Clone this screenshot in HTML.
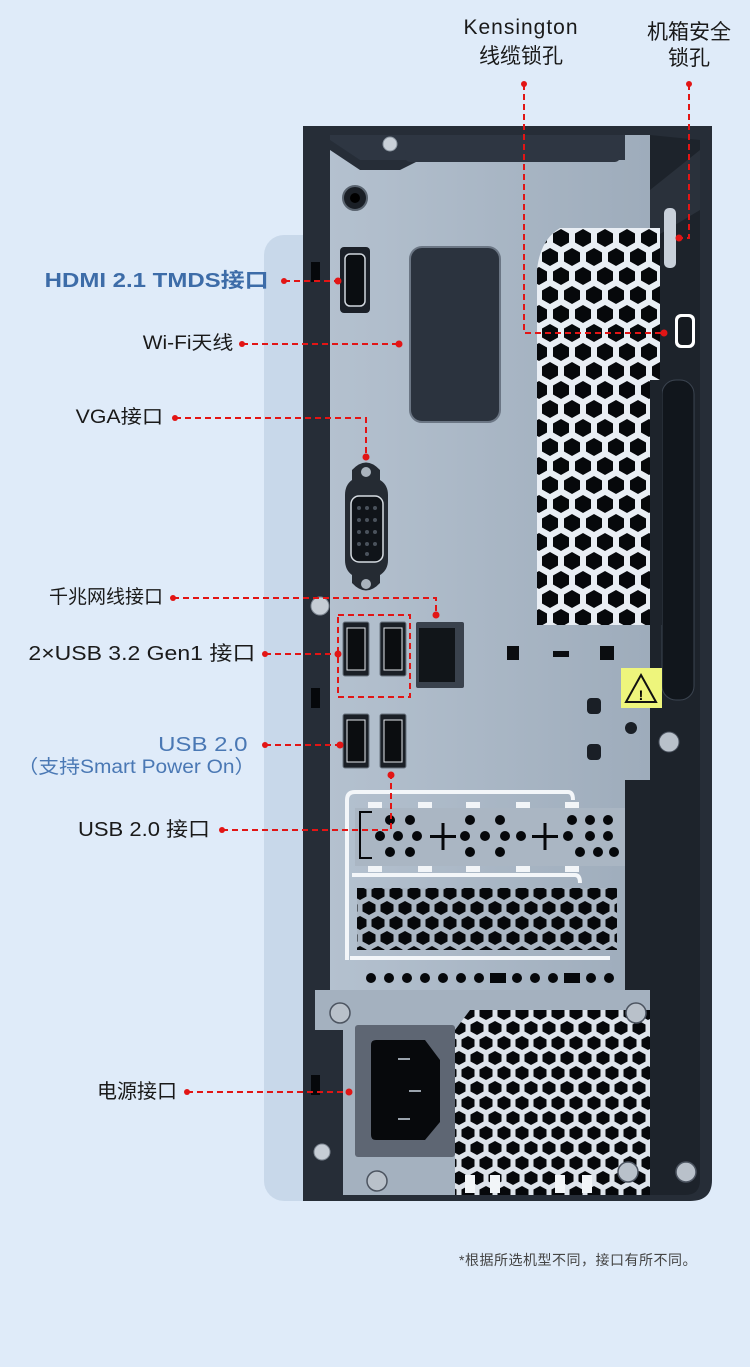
<!DOCTYPE html>
<html><head><meta charset="utf-8"><style>
html,body{margin:0;padding:0;background:#dfebf9;}
body{width:750px;height:1367px;overflow:hidden;position:relative;font-family:"Liberation Sans","Noto Sans CJK SC",sans-serif;}
.t{position:absolute;white-space:nowrap;color:#1a1a1a;font-size:19px;line-height:22px;transform-origin:100% 50%;}
.b{color:#3d6ca8;font-weight:bold;}
.bl{color:#4a78b4;}
.c{position:absolute;white-space:nowrap;color:#1a1a1a;font-size:21px;line-height:24px;text-align:center;}
</style></head><body>
<svg width="750" height="1367" style="position:absolute;left:0;top:0">
<defs>
<pattern id="hex" x="0" y="0" width="22" height="38" patternUnits="userSpaceOnUse">
<polygon points="11,1 19,5.5 19,14.5 11,19 3,14.5 3,5.5" fill="#06080b"/>
<polygon points="0,20 8,24.5 8,33.5 0,38 -8,33.5 -8,24.5" fill="#06080b"/>
<polygon points="22,20 30,24.5 30,33.5 22,38 14,33.5 14,24.5" fill="#06080b"/>
</pattern>
<pattern id="hex2" x="0" y="0" width="18" height="30" patternUnits="userSpaceOnUse">
<polygon points="9,1 15.5,4.5 15.5,11.5 9,15 2.5,11.5 2.5,4.5" fill="#06080b"/>
<polygon points="0,16 6.5,19.5 6.5,26.5 0,30 -6.5,26.5 -6.5,19.5" fill="#06080b"/>
<polygon points="18,16 24.5,19.5 24.5,26.5 18,30 11.5,26.5 11.5,19.5" fill="#06080b"/>
</pattern>
<linearGradient id="pl" x1="0" y1="0" x2="1" y2="0">
<stop offset="0" stop-color="#b4c1cf"/><stop offset="1" stop-color="#9eacbb"/>
</linearGradient>
</defs>
<rect x="264" y="235" width="90" height="966" rx="20" fill="#c8d8ea"/>
<path d="M303,126 H712 V1180 Q712,1201 690,1201 H303 Z" fill="#262d37"/>
<path d="M330,150 L360,170 H400 L420,160 H625 V135 H650 V1195 H345 V1135 L330,1125 Z" fill="url(#pl)"/>
<path d="M330,140 L360,160 H625 V135 H330 Z" fill="#2e3642"/>
<rect x="405" y="150" width="215" height="12" rx="5" fill="#2e3642"/>
<circle cx="390" cy="144" r="7" fill="#c9d0d8" stroke="#8a949f"/>
<path d="M650,135 L700,140 V1180 Q700,1195 685,1195 H650 Z" fill="#1d232b"/>
<path d="M650,190 L700,150 V210 L650,240 Z" fill="#2a313b"/>
<rect x="662" y="380" width="32" height="320" rx="14" fill="#11161c" stroke="#3b4450"/>
<rect x="664" y="208" width="12" height="60" rx="5" fill="#c8d0da"/>
<rect x="675" y="314" width="20" height="34" rx="6" fill="#fff"/>
<rect x="678" y="317" width="14" height="28" rx="4" fill="#151a20"/>
<rect x="311" y="262" width="9" height="20" fill="#06080b"/>
<rect x="311" y="688" width="9" height="20" fill="#06080b"/>
<path d="M560,228 Q540,240 537,270 V625 H660 V228 Z" fill="#e9eef4"/>
<path d="M560,228 Q540,240 537,270 V625 H660 V228 Z" fill="url(#hex)"/>
<rect x="650" y="380" width="12" height="245" fill="#1d232b"/>
<circle cx="355" cy="198" r="12" fill="#1a1f26" stroke="#5a6470" stroke-width="2"/>
<circle cx="355" cy="198" r="5" fill="#000"/>
<rect x="340" y="247" width="30" height="66" rx="4" fill="#1b2028"/>
<rect x="345" y="254" width="20" height="52" rx="5" fill="#0a0d11" stroke="#d0d6dd" stroke-width="1.5"/>
<rect x="410" y="247" width="90" height="175" rx="12" fill="#2b333e" stroke="#6b7684" stroke-width="2"/>
<path d="M352,470 Q366,455 380,470 V480 Q388,485 388,495 V560 Q388,570 380,575 V583 Q366,598 352,583 V575 Q345,570 345,560 V495 Q345,485 352,480 Z" fill="#252b33"/>
<circle cx="366" cy="472" r="5" fill="#aab3bd"/><circle cx="366" cy="584" r="5" fill="#aab3bd"/>
<rect x="351" y="496" width="32" height="66" rx="8" fill="#101419" stroke="#d6dce2" stroke-width="1.5"/>
<g fill="#4a525c"><circle cx="359" cy="508" r="2"/><circle cx="367" cy="508" r="2"/><circle cx="375" cy="508" r="2"/><circle cx="359" cy="520" r="2"/><circle cx="367" cy="520" r="2"/><circle cx="375" cy="520" r="2"/><circle cx="359" cy="532" r="2"/><circle cx="367" cy="532" r="2"/><circle cx="375" cy="532" r="2"/><circle cx="359" cy="544" r="2"/><circle cx="367" cy="544" r="2"/><circle cx="375" cy="544" r="2"/><circle cx="367" cy="554" r="2"/></g>
<circle cx="320" cy="606" r="9" fill="#c6cdd5" stroke="#7f8893"/>
<g fill="#1a1f26" stroke="#6a7480"><rect x="343" y="622" width="26" height="54" rx="2"/><rect x="380" y="622" width="26" height="54" rx="2"/><rect x="343" y="714" width="26" height="54" rx="2"/><rect x="380" y="714" width="26" height="54" rx="2"/></g>
<g fill="#0b0d10" stroke="#e5e9ee" stroke-width="1"><rect x="347" y="628" width="18" height="42"/><rect x="384" y="628" width="18" height="42"/><rect x="347" y="720" width="18" height="42"/><rect x="384" y="720" width="18" height="42"/></g>
<rect x="416" y="622" width="48" height="66" rx="2" fill="#3a424d"/>
<rect x="419" y="628" width="36" height="54" fill="#111519"/>
<rect x="507" y="646" width="12" height="14" fill="#0b0d10"/>
<rect x="553" y="651" width="16" height="6" fill="#0b0d10"/>
<rect x="600" y="646" width="14" height="14" fill="#0b0d10"/>
<rect x="621" y="668" width="41" height="40" fill="#eef57c"/>
<polygon points="641,675 656,702 626,702" fill="none" stroke="#111" stroke-width="2"/>
<text x="641" y="700" font-size="14" font-weight="bold" text-anchor="middle" font-family="Liberation Sans">!</text>
<rect x="587" y="698" width="14" height="16" rx="4" fill="#1a1f26"/>
<rect x="587" y="744" width="14" height="16" rx="4" fill="#1a1f26"/>
<circle cx="631" cy="728" r="6" fill="#1a1f26"/>
<circle cx="669" cy="742" r="10" fill="#b9c1ca" stroke="#4c5460"/>
<path d="M347,960 V800 Q347,792 355,792 H568 Q573,792 573,800 M350,958 H610" fill="none" stroke="#f3f6f9" stroke-width="4"/>
<path d="M352,875 H575 Q580,875 580,883" fill="none" stroke="#f3f6f9" stroke-width="4"/>
<rect x="355" y="808" width="270" height="58" fill="#aab6c3"/>
<g fill="#06080b">
<circle cx="390" cy="820" r="5"/><circle cx="410" cy="820" r="5"/><circle cx="380" cy="836" r="5"/><circle cx="398" cy="836" r="5"/><circle cx="417" cy="836" r="5"/><circle cx="390" cy="852" r="5"/><circle cx="410" cy="852" r="5"/>
<rect x="430" y="835" width="26" height="3"/><rect x="441.5" y="823" width="3" height="27"/>
<rect x="532" y="835" width="26" height="3"/><rect x="543.5" y="823" width="3" height="27"/>
<circle cx="470" cy="820" r="5"/><circle cx="500" cy="820" r="5"/><circle cx="465" cy="836" r="5"/><circle cx="485" cy="836" r="5"/><circle cx="505" cy="836" r="5"/><circle cx="521" cy="836" r="5"/><circle cx="470" cy="852" r="5"/><circle cx="500" cy="852" r="5"/>
<circle cx="572" cy="820" r="5"/><circle cx="590" cy="820" r="5"/><circle cx="608" cy="820" r="5"/><circle cx="568" cy="836" r="5"/><circle cx="590" cy="836" r="5"/><circle cx="608" cy="836" r="5"/><circle cx="580" cy="852" r="5"/><circle cx="598" cy="852" r="5"/><circle cx="614" cy="852" r="5"/>
</g>
<path d="M372,812 H360 V858 H372" fill="none" stroke="#06080b" stroke-width="2"/>
<rect x="357" y="888" width="260" height="62" fill="#aab6c3"/>
<rect x="357" y="888" width="260" height="62" fill="url(#hex2)"/>
<g fill="#f2f5f8"><rect x="368" y="802" width="14" height="6"/><rect x="418" y="802" width="14" height="6"/><rect x="466" y="802" width="14" height="6"/><rect x="516" y="802" width="14" height="6"/><rect x="565" y="802" width="14" height="6"/><rect x="368" y="866" width="14" height="6"/><rect x="418" y="866" width="14" height="6"/><rect x="466" y="866" width="14" height="6"/><rect x="516" y="866" width="14" height="6"/><rect x="565" y="866" width="14" height="6"/></g>
<rect x="625" y="780" width="25" height="220" fill="#1e242c"/>
<g fill="#06080b"><circle cx="371" cy="978" r="5"/><circle cx="389" cy="978" r="5"/><circle cx="407" cy="978" r="5"/><circle cx="425" cy="978" r="5"/><circle cx="443" cy="978" r="5"/><circle cx="461" cy="978" r="5"/><circle cx="479" cy="978" r="5"/><rect x="490" y="973" width="16" height="10"/><circle cx="517" cy="978" r="5"/><circle cx="535" cy="978" r="5"/><circle cx="553" cy="978" r="5"/><rect x="564" y="973" width="16" height="10"/><circle cx="591" cy="978" r="5"/><circle cx="609" cy="978" r="5"/></g>
<rect x="315" y="990" width="335" height="205" fill="#a4b1bf"/>
<rect x="303" y="1030" width="40" height="170" fill="#262d37"/>
<rect x="311" y="1075" width="9" height="20" fill="#06080b"/>
<path d="M470,1010 H650 V1195 H455 V1030 Z" fill="#dde3ea"/>
<path d="M470,1010 H650 V1195 H455 V1030 Z" fill="url(#hex2)"/>
<rect x="355" y="1025" width="100" height="132" rx="3" fill="#5e6673"/>
<path d="M376,1040 H425 L440,1060 V1122 L425,1140 H376 Q371,1140 371,1135 V1045 Q371,1040 376,1040 Z" fill="#07090c"/>
<g fill="#9aa3ad"><rect x="398" y="1058" width="12" height="2"/><rect x="409" y="1090" width="12" height="2"/><rect x="398" y="1118" width="12" height="2"/></g>
<g fill="#b9c1ca" stroke="#4c5460" stroke-width="1.5"><circle cx="340" cy="1013" r="10"/><circle cx="636" cy="1013" r="10"/><circle cx="377" cy="1181" r="10"/><circle cx="628" cy="1172" r="10"/><circle cx="686" cy="1172" r="10"/></g>
<circle cx="322" cy="1152" r="8" fill="#c6cdd5" stroke="#7f8893"/>
<g fill="#f2f5f8"><rect x="465" y="1175" width="10" height="18"/><rect x="490" y="1175" width="10" height="18"/><rect x="555" y="1175" width="10" height="18"/><rect x="582" y="1175" width="10" height="18"/></g>
<g fill="none" stroke="#e21515" stroke-width="2" stroke-dasharray="6,4">
<path d="M524,84 V333 H664"/>
<path d="M689,84 V238 H679"/>
<path d="M284,281 H338"/>
<path d="M242,344 H399"/>
<path d="M175,418 H366 V457"/>
<path d="M173,598 H436 V615"/>
<path d="M265,654 H338"/>
<rect x="338" y="615" width="72" height="82"/>
<path d="M265,745 H340"/>
<path d="M222,830 H391 V775"/>
<path d="M187,1092 H349"/>
</g>
<g fill="#e21515">
<circle cx="524" cy="84" r="3"/><circle cx="664" cy="333" r="3.5"/><circle cx="689" cy="84" r="3"/><circle cx="679" cy="238" r="3.5"/>
<circle cx="284" cy="281" r="3"/><circle cx="338" cy="281" r="3.5"/><circle cx="242" cy="344" r="3"/><circle cx="399" cy="344" r="3.5"/>
<circle cx="175" cy="418" r="3"/><circle cx="366" cy="457" r="3.5"/><circle cx="173" cy="598" r="3"/><circle cx="436" cy="615" r="3.5"/>
<circle cx="265" cy="654" r="3"/><circle cx="338" cy="654" r="3.5"/><circle cx="265" cy="745" r="3"/><circle cx="340" cy="745" r="3.5"/>
<circle cx="222" cy="830" r="3"/><circle cx="391" cy="775" r="3.5"/><circle cx="187" cy="1092" r="3"/><circle cx="349" cy="1092" r="3.5"/>
</g>
</svg>
<div class="c" style="left:421px;width:200px;top:16px;letter-spacing:1px;">Kensington</div>
<div class="c" style="left:421px;width:200px;top:45px;">线缆锁孔</div>
<div class="c" style="left:629px;width:120px;top:21px;">机箱安全</div>
<div class="c" style="left:629px;width:120px;top:47px;">锁孔</div>
<div class="t b" style="right:481px;top:270px;font-size:20px;transform:scaleX(1.2);">HDMI 2.1 TMDS接口</div>
<div class="t" style="right:517px;top:333px;font-size:19px;transform:scaleX(1.1);">Wi-Fi天线</div>
<div class="t" style="right:587px;top:407px;font-size:19px;transform:scaleX(1.12);">VGA接口</div>
<div class="t" style="right:587px;top:587px;font-size:19px;">千兆网线接口</div>
<div class="t" style="right:495px;top:643px;font-size:20px;transform:scaleX(1.15);">2×USB 3.2 Gen1 接口</div>
<div class="t bl" style="right:503px;top:734px;font-size:20px;transform:scaleX(1.2);">USB 2.0</div>
<div class="t bl" style="right:495px;top:757px;font-size:19px;transform:scaleX(1.1);">（支持Smart Power On）</div>
<div class="t" style="right:540px;top:819px;font-size:20px;transform:scaleX(1.1);">USB 2.0 接口</div>
<div class="t" style="right:573px;top:1081px;font-size:20px;">电源接口</div>
<div class="t" style="right:53px;top:1249px;font-size:14px;color:#444;letter-spacing:0.5px;">*根据所选机型不同，接口有所不同。</div>
</body></html>
